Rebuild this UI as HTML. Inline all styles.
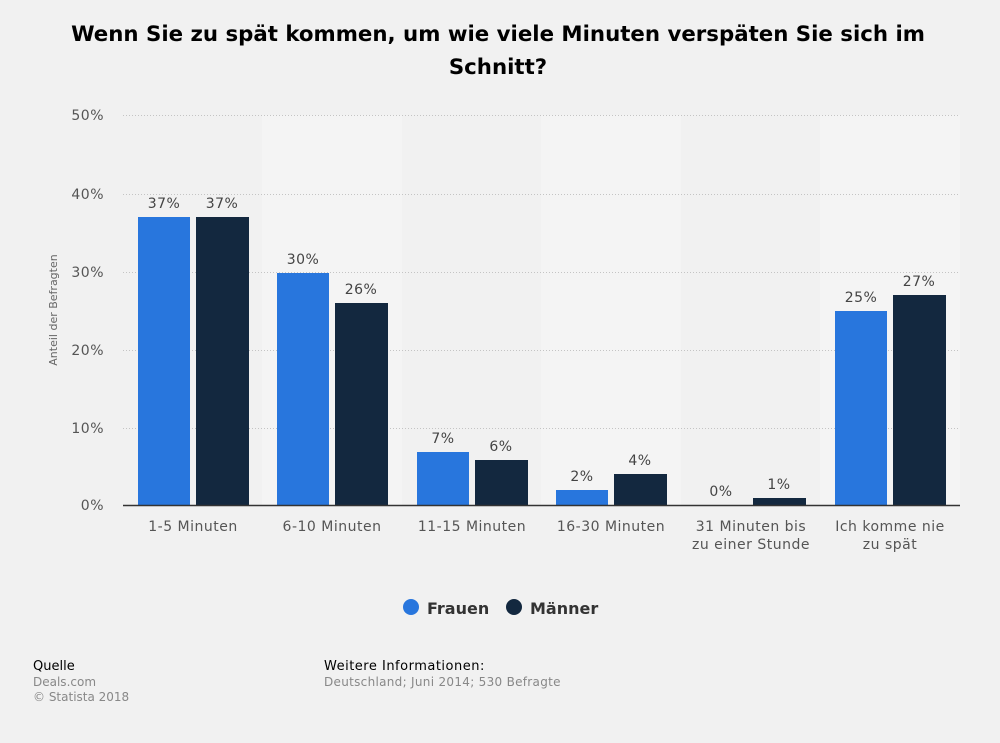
<!DOCTYPE html>
<html><head><meta charset="utf-8"><style>
body{margin:0;background:#f1f1f1;}
svg{display:block;font-family:"DejaVu Sans","Liberation Sans",sans-serif;}
</style></head><body>
<svg width="1000" height="743" viewBox="0 0 1000 743">
<rect width="1000" height="743" fill="#f1f1f1"/>
<text x="498" y="41" text-anchor="middle" font-size="21.3" font-weight="bold" fill="#000">Wenn Sie zu spät kommen, um wie viele Minuten verspäten Sie sich im</text>
<text x="498" y="74" text-anchor="middle" font-size="21.3" font-weight="bold" fill="#000">Schnitt?</text>
<rect x="262" y="115" width="140" height="390" fill="#f4f4f4"/>
<rect x="541" y="115" width="140" height="390" fill="#f4f4f4"/>
<rect x="820" y="115" width="140" height="390" fill="#f4f4f4"/>
<g stroke="#c4c4c4" stroke-dasharray="1,2" stroke-width="1">
<line x1="123" x2="960" y1="115.5" y2="115.5"/><line x1="123" x2="960" y1="194.5" y2="194.5"/>
<line x1="123" x2="960" y1="272.5" y2="272.5"/><line x1="123" x2="960" y1="350.5" y2="350.5"/>
<line x1="123" x2="960" y1="428.5" y2="428.5"/>
</g>
<g font-size="14" fill="#555" text-anchor="end" letter-spacing="0.5">
<text x="104" y="120">50%</text><text x="104" y="199">40%</text><text x="104" y="277">30%</text>
<text x="104" y="355">20%</text><text x="104" y="433">10%</text><text x="104" y="510">0%</text>
</g>
<text transform="translate(57,310) rotate(-90)" text-anchor="middle" font-size="11" fill="#666">Anteil der Befragten</text>
<g>
<rect x="138" y="217" width="52" height="288" fill="#2876dd"/><rect x="196" y="217" width="53" height="288" fill="#13283f"/>
<rect x="277" y="273" width="52" height="232" fill="#2876dd"/><rect x="335" y="303" width="53" height="202" fill="#13283f"/>
<rect x="417" y="452" width="52" height="53" fill="#2876dd"/><rect x="475" y="460" width="53" height="45" fill="#13283f"/>
<rect x="556" y="490" width="52" height="15" fill="#2876dd"/><rect x="614" y="474" width="53" height="31" fill="#13283f"/>
<rect x="753" y="498" width="53" height="7" fill="#13283f"/>
<rect x="835" y="311" width="52" height="194" fill="#2876dd"/><rect x="893" y="295" width="53" height="210" fill="#13283f"/>
</g>
<line x1="123" x2="960" y1="505.5" y2="505.5" stroke="#333" stroke-width="1.5"/>
<g font-size="14" fill="#444" text-anchor="middle" letter-spacing="0.5">
<text x="164" y="208">37%</text><text x="222" y="208">37%</text>
<text x="303" y="264">30%</text><text x="361" y="294">26%</text>
<text x="443" y="443">7%</text><text x="501" y="451">6%</text>
<text x="582" y="481">2%</text><text x="640" y="465">4%</text>
<text x="721" y="496">0%</text><text x="779" y="489">1%</text>
<text x="861" y="302">25%</text><text x="919" y="286">27%</text>
</g>
<g font-size="14" fill="#555" text-anchor="middle" letter-spacing="0.5">
<text x="193" y="531">1-5 Minuten</text><text x="332" y="531">6-10 Minuten</text>
<text x="472" y="531">11-15 Minuten</text><text x="611" y="531">16-30 Minuten</text>
<text x="751" y="531">31 Minuten bis</text><text x="751" y="549">zu einer Stunde</text>
<text x="890" y="531">Ich komme nie</text><text x="890" y="549">zu spät</text>
</g>
<circle cx="411" cy="607" r="8" fill="#2876dd"/>
<text x="427" y="614" font-size="16" font-weight="bold" fill="#333">Frauen</text>
<circle cx="514" cy="607" r="8" fill="#13283f"/>
<text x="530" y="614" font-size="16" font-weight="bold" fill="#333">Männer</text>
<text x="33" y="670" font-size="13" fill="#000">Quelle</text>
<text x="33" y="686" font-size="12" fill="#888">Deals.com</text>
<text x="33" y="701" font-size="12" fill="#888">© Statista 2018</text>
<text x="324" y="670" font-size="13" fill="#000" letter-spacing="0.5">Weitere Informationen:</text>
<text x="324" y="686" font-size="12" fill="#888" letter-spacing="0.3">Deutschland; Juni 2014; 530 Befragte</text>
</svg>
</body></html>
